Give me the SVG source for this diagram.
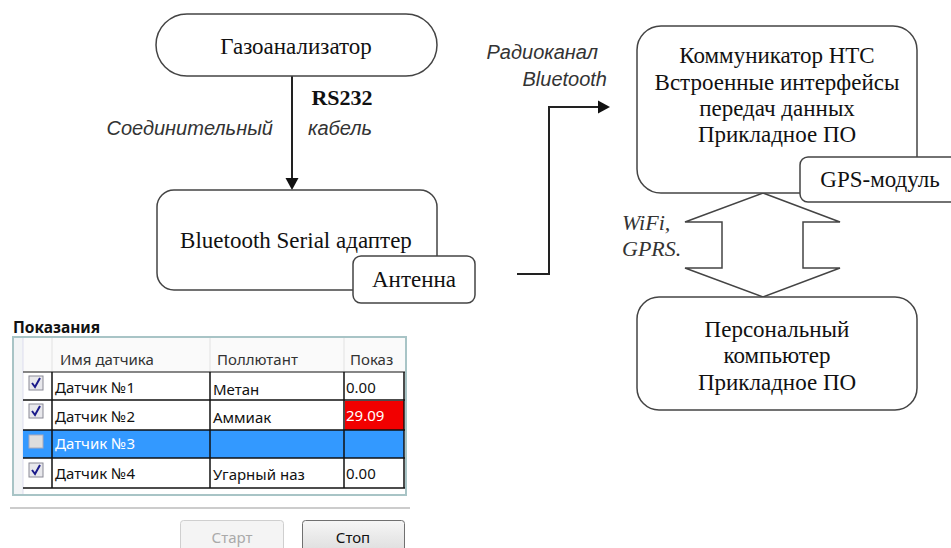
<svg xmlns="http://www.w3.org/2000/svg" width="951" height="548" viewBox="0 0 951 548">
<defs>
<style>
.box{fill:#fff;stroke:#444;stroke-width:1.5}
.t{font-family:"Liberation Serif","Times New Roman",serif;font-size:23px;fill:#111;text-anchor:middle}
.it{font-family:"Liberation Sans",Arial,sans-serif;font-style:italic;font-size:20px;fill:#333}
.its{font-family:"Liberation Serif",serif;font-style:italic;font-size:22px;fill:#333}
.line{fill:none;stroke:#222;stroke-width:2}
.ui{font-family:"Noto Sans","Liberation Sans",Arial,sans-serif;font-size:15px}
.grid{stroke:#111;stroke-width:1.5}
.cb{fill:#e8e8ec;stroke:#8a8a96;stroke-width:1}
.ck{fill:none;stroke:#1a1a8a;stroke-width:2}
</style>
<linearGradient id="btn" x1="0" y1="0" x2="0" y2="1">
<stop offset="0" stop-color="#f6f6f6"/><stop offset="1" stop-color="#dcdcdc"/>
</linearGradient>
</defs>

<g id="connectors">
<path class="line" d="M292,76 V178" />
<path d="M285.5,178 L298.5,178 L292,190 z" fill="#111"/>
<path class="line" d="M517,274 H549 V107 H599" />
<path d="M598,100.5 L610,107 L598,113.5 z" fill="#111"/>
<path d="M763,193 L840,222 L803,222 L803,268 L840,268 L763,297 L685,268 L722,268 L722,222 L685,222 z" fill="#fff" stroke="#444" stroke-width="1.5"/>
<text class="it" x="273" y="135" text-anchor="end">Соединительный</text>
<text class="it" x="308" y="135">кабель</text>
<text x="342" y="105" font-family="Liberation Serif,serif" font-weight="bold" font-size="22" fill="#111" text-anchor="middle">RS232</text>
<text class="it" x="598" y="59" text-anchor="end">Радиоканал</text>
<text class="it" x="607" y="86" text-anchor="end">Bluetooth</text>
<text class="its" x="622" y="230">WiFi,</text>
<text class="its" x="622" y="256">GPRS.</text>
</g>

<g id="gas">
<rect class="box" x="156" y="14" width="281" height="62" rx="31"/>
<text class="t" x="296" y="54">Газоанализатор</text>
</g>

<g id="bt">
<rect class="box" x="157" y="190" width="280" height="100" rx="17"/>
<text class="t" x="296" y="248">Bluetooth Serial адаптер</text>
</g>

<g id="antenna">
<rect class="box" x="353" y="256" width="122" height="47" rx="8"/>
<text class="t" x="414" y="287">Антенна</text>
</g>

<g id="htc">
<rect class="box" x="637" y="26" width="280" height="167" rx="24"/>
<text class="t" x="777" y="63">Коммуникатор НТС</text>
<text class="t" x="777" y="90">Встроенные интерфейсы</text>
<text class="t" x="777" y="116">передач данных</text>
<text class="t" x="777" y="142">Прикладное ПО</text>
</g>

<g id="gps">
<rect class="box" x="800" y="157" width="170" height="45" rx="8"/>
<text class="t" x="880" y="187">GPS-модуль</text>
</g>

<g id="pc">
<rect class="box" x="637" y="297" width="280" height="113" rx="22"/>
<text class="t" x="777" y="337">Персональный</text>
<text class="t" x="777" y="363">компьютер</text>
<text class="t" x="777" y="390">Прикладное ПО</text>
</g>

<g id="screenshot">
<text x="13" y="333" font-family="Noto Sans,Liberation Sans,sans-serif" font-weight="bold" font-size="15.5" fill="#111">Показания</text>
<rect x="13" y="337" width="393" height="158" fill="#fff" stroke="#a8c4c6" stroke-width="2"/>
<rect x="14" y="338" width="391" height="34" fill="#fafafa"/>
<rect x="14" y="338" width="9" height="156" fill="#f2f4f6"/>
<line x1="23" y1="338" x2="23" y2="494" stroke="#dde" stroke-width="1"/>
<line x1="52" y1="338" x2="52" y2="372" stroke="#e2e2e2"/>
<line x1="210" y1="338" x2="210" y2="372" stroke="#e2e2e2"/>
<line x1="344" y1="338" x2="344" y2="372" stroke="#e2e2e2"/>
<rect x="345" y="401" width="59" height="29" fill="#f20000"/>
<rect x="23" y="430" width="381" height="28" fill="#3399ff"/>
<g class="grid">
<line x1="23" y1="372" x2="405" y2="372" stroke-width="1"/>
<line x1="23" y1="400" x2="405" y2="400"/>
<line x1="23" y1="430" x2="405" y2="430"/>
<line x1="23" y1="458" x2="405" y2="458"/>
<line x1="23" y1="488" x2="405" y2="488"/>
<line x1="52" y1="372" x2="52" y2="488"/>
<line x1="210" y1="372" x2="210" y2="488"/>
<line x1="344" y1="372" x2="344" y2="488"/>
<line x1="404" y1="372" x2="404" y2="488"/>
</g>
<text class="ui" x="60" y="365" style="fill:#333">Имя датчика</text>
<text class="ui" x="217" y="365" style="fill:#333">Поллютант</text>
<text class="ui" x="350" y="365" style="fill:#333">Показ</text>
<rect class="cb" x="29" y="376" width="14" height="14"/>
<path class="ck" d="M32,383 L35,387 L40,378"/>
<rect class="cb" x="29" y="404" width="14" height="14"/>
<path class="ck" d="M32,411 L35,415 L40,406"/>
<rect x="29" y="435" width="14" height="13" fill="#ddd" stroke="#aab"/>
<rect class="cb" x="29" y="463" width="14" height="14"/>
<path class="ck" d="M32,470 L35,474 L40,465"/>
<text class="ui" x="55" y="393" style="fill:#111">Датчик №1</text>
<text class="ui" x="213" y="395" style="fill:#111">Метан</text>
<text class="ui" x="346" y="393" style="fill:#111">0.00</text>
<text class="ui" x="55" y="422" style="fill:#111">Датчик №2</text>
<text class="ui" x="213" y="423" style="fill:#111">Аммиак</text>
<text class="ui" x="346" y="421" style="fill:#fff">29.09</text>
<text class="ui" x="55" y="449" style="fill:#fff">Датчик №3</text>
<text class="ui" x="55" y="479" style="fill:#111">Датчик №4</text>
<text class="ui" x="213" y="480" style="fill:#111">Угарный наз</text>
<text class="ui" x="346" y="479" style="fill:#111">0.00</text>
<line x1="10" y1="508" x2="410" y2="508" stroke="#ccc" stroke-width="2"/>
<rect x="180.5" y="520.5" width="103" height="34" rx="3" fill="#f4f4f4" stroke="#cfcfcf"/>
<text class="ui" x="232" y="543" text-anchor="middle" style="fill:#aaa">Старт</text>
<rect x="302.5" y="520.5" width="102" height="34" rx="3" fill="url(#btn)" stroke="#707070"/>
<text class="ui" x="353" y="543" text-anchor="middle" style="fill:#111">Стоп</text>
</g>
</svg>
